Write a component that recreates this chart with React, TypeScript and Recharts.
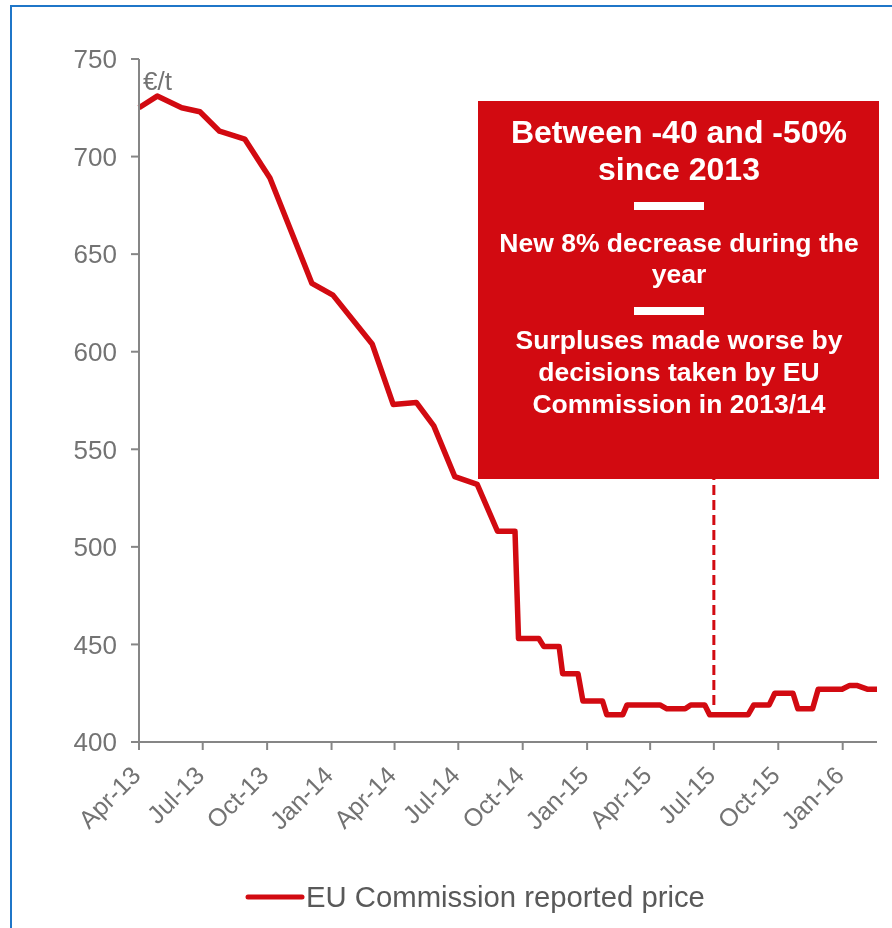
import { LineChart, Line, XAxis, YAxis, Legend, ReferenceLine } from 'recharts';

const dates = [
  '2013-04-01', '2013-04-27', '2013-06-01', '2013-06-27', '2013-07-25', '2013-08-30',
  '2013-10-05', '2013-12-04', '2014-01-03', '2014-02-28', '2014-03-30', '2014-05-02',
  '2014-05-27', '2014-06-26', '2014-07-28', '2014-08-26', '2014-09-20', '2014-09-25',
  '2014-10-24', '2014-10-31', '2014-11-22', '2014-11-27', '2014-12-19', '2014-12-26',
  '2015-01-23', '2015-01-29', '2015-02-21', '2015-02-27', '2015-04-15', '2015-04-25',
  '2015-05-21', '2015-05-29', '2015-06-18', '2015-06-25', '2015-08-19', '2015-08-27',
  '2015-09-18', '2015-09-26', '2015-10-22', '2015-10-29', '2015-11-19', '2015-11-27',
  '2015-12-31', '2016-01-11', '2016-01-21', '2016-02-06', '2016-02-19',
];

const prices = [
  725, 731, 725, 723, 713, 709,
  689, 635, 629, 604, 573, 574,
  562, 536, 532, 508, 508, 453,
  453, 449, 449, 435, 435, 421,
  421, 414, 414, 419, 419, 417,
  417, 419, 419, 414, 414, 419,
  419, 425, 425, 417, 417, 427,
  427, 429, 429, 427, 427,
];

const tickDates = [
  '2013-04-01', '2013-07-01', '2013-10-01', '2014-01-01', '2014-04-01', '2014-07-01',
  '2014-10-01', '2015-01-01', '2015-04-01', '2015-07-01', '2015-10-01', '2016-01-01',
];
const tickLabels = [
  'Apr-13', 'Jul-13', 'Oct-13', 'Jan-14', 'Apr-14', 'Jul-14',
  'Oct-14', 'Jan-15', 'Apr-15', 'Jul-15', 'Oct-15', 'Jan-16',
];
const yTicks = [400, 450, 500, 550, 600, 650, 700, 750];

const markerDate = '2015-07-01';
const markerRange = [419, 535];

const RED = '#D20A11';
const GREY = '#737373';
const BLUE = '#1f76c8';
const FONT = '"Liberation Sans", Arial, sans-serif';

const data = dates.map((d, i) => ({ t: Date.parse(d), price: prices[i] }));
const tickValues = tickDates.map((d) => Date.parse(d));
const markerX = Date.parse(markerDate);

function XTick(props: any) {
  const { x, y, payload } = props;
  const idx = tickValues.indexOf(payload.value);
  return (
    <g transform={`translate(${x + 3},${y + 25})`}>
      <text
        x={0}
        y={0}
        textAnchor="end"
        transform="rotate(-45)"
        fontSize={25}
        fill={GREY}
        fontFamily={FONT}
      >
        {tickLabels[idx]}
      </text>
    </g>
  );
}

function LegendContent() {
  return (
    <div style={{ width: 884, height: 50 }}>
      <svg width={884} height={50} style={{ display: 'block' }}>
        <line x1={240} x2={294} y1={23} y2={23} stroke={RED} strokeWidth={5} strokeLinecap="round" />
        <text x={298} y={33} fontSize={29.3} fill="#595959" fontFamily={FONT}>
          EU Commission reported price
        </text>
      </svg>
    </div>
  );
}

export default function App() {
  return (
    <div style={{ position: 'relative', width: 884, height: 920, fontFamily: FONT }}>
      <div style={{ position: 'fixed', left: 10, top: 5, width: 882, height: 2, background: BLUE }} />
      <div style={{ position: 'fixed', left: 10, top: 5, width: 2, height: 923, background: BLUE }} />
      <LineChart
        width={884}
        height={920}
        data={data}
        margin={{ top: 51, right: 15, left: 71, bottom: 56 }}
      >
        <XAxis
          dataKey="t"
          type="number"
          domain={[data[0].t, data[data.length - 1].t]}
          ticks={tickValues}
          height={80}
          interval={0}
          axisLine={{ stroke: '#868686', strokeWidth: 2 }}
          tickLine={{ stroke: '#868686', strokeWidth: 2 }}
          tickSize={8}
          tick={<XTick />}
        />
        <YAxis
          domain={[400, 750]}
          ticks={yTicks}
          width={60}
          interval={0}
          axisLine={{ stroke: '#868686', strokeWidth: 2 }}
          tickLine={{ stroke: '#868686', strokeWidth: 2 }}
          tickSize={8}
          tickMargin={14}
          tick={{ fontSize: 26, fill: GREY, fontFamily: FONT }}
        />
        <ReferenceLine
          segment={[
            { x: markerX, y: markerRange[0] },
            { x: markerX, y: markerRange[1] },
          ]}
          stroke={RED}
          strokeWidth={3}
          strokeDasharray="10 5"
          ifOverflow="visible"
        />
        <Line
          type="linear"
          dataKey="price"
          name="EU Commission reported price"
          stroke={RED}
          strokeWidth={5.5}
          strokeLinejoin="round"
          dot={false}
          isAnimationActive={false}
        />
        <Legend
          verticalAlign="bottom"
          content={<LegendContent />}
          wrapperStyle={{ top: 866, bottom: 'auto', left: 0, width: 884, height: 50 }}
        />
      </LineChart>
      <svg
        width={884}
        height={920}
        style={{ position: 'absolute', left: 0, top: 0, pointerEvents: 'none' }}
      >
        <text x={135} y={82} fontSize={26} fill={GREY} fontFamily={FONT}>
          €/t
        </text>
        <rect x={470} y={93} width={401} height={378} fill={RED} />
        <g fill="#fff" fontFamily={FONT} fontWeight="bold" textAnchor="middle">
          <text x={671} y={135} fontSize={32}>Between -40 and -50%</text>
          <text x={671} y={172} fontSize={32}>since 2013</text>
          <rect x={626} y={194} width={70} height={8} />
          <text x={671} y={244} fontSize={26.5}>New 8% decrease during the</text>
          <text x={671} y={275} fontSize={26.5}>year</text>
          <rect x={626} y={299} width={70} height={8} />
          <text x={671} y={341} fontSize={26.5}>Surpluses made worse by</text>
          <text x={671} y={373} fontSize={26.5}>decisions taken by EU</text>
          <text x={671} y={405} fontSize={26.5}>Commission in 2013/14</text>
        </g>
      </svg>
    </div>
  );
}
